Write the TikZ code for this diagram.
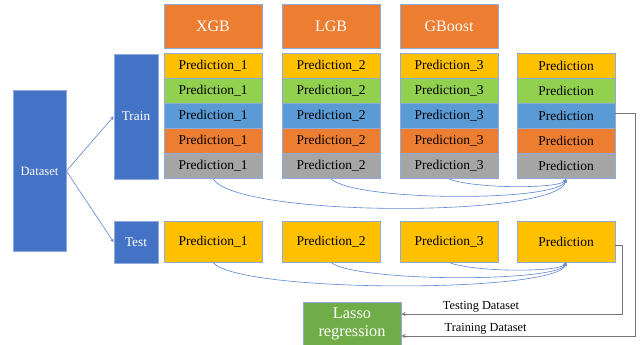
\documentclass[tikz,border=0pt]{standalone}
\usepackage{fontspec}
\setmainfont{Liberation Serif}

\definecolor{boxblue}{HTML}{4472C4}
\definecolor{boxorange}{HTML}{ED7D31}
\definecolor{boxyellow}{HTML}{FFC000}
\definecolor{boxgreen}{HTML}{92D050}
\definecolor{boxsky}{HTML}{5B9BD5}
\definecolor{boxgray}{HTML}{A5A5A5}
\definecolor{lassogreen}{HTML}{70AD47}
\definecolor{edge}{HTML}{8FAADC}
\definecolor{curveblue}{HTML}{5B86D0}
\definecolor{wire}{HTML}{767676}

\begin{document}
\begin{tikzpicture}[x=1pt,y=-1pt,
    blk/.style={draw=edge, line width=0.8pt, inner sep=0pt, align=center},
    pred/.style={blk, minimum width=98pt, minimum height=25pt, font=\fontsize{13.5}{15}\selectfont},
    head/.style={blk, fill=boxorange, text=white, minimum width=98pt, minimum height=44pt, font=\fontsize{16}{18}\selectfont},
    stage/.style={blk, fill=boxblue, text=white, minimum width=44pt, font=\fontsize{13.3}{15}\selectfont},
    link/.style={draw=curveblue, line width=0.6pt, ->, >=stealth},
    wireline/.style={draw=wire, line width=0.9pt, ->, >=stealth},
    tag/.style={font=\fontsize{12.3}{14}\selectfont, inner sep=1.5pt}]
    \useasboundingbox (0,0) rectangle (643,345);

    % Dataset split
    \node[stage, minimum width=53pt, minimum height=161pt, font=\fontsize{12.6}{14}\selectfont] (data) at (39.5,171) {Dataset};
    \node[stage, minimum height=125pt] (train) at (136,116.5) {Train};
    \node[stage, minimum height=42pt] (test) at (136,242) {Test};
    \draw[link] (data.east) -- (train.west);
    \draw[link] (data.east) -- (test.west);

    % Model headers
    \node[head] (xgb) at (213,26) {XGB};
    \node[head] (lgb) at (331,26) {LGB};
    \node[head] (gboost) at (449,26) {GBoost};

    % Train folds and test predictions
    \foreach \c/\x/\lab in {1/213/Prediction\_1, 2/331/Prediction\_2, 3/449/Prediction\_3, 4/566/Prediction} {
        \foreach \r/\col in {1/boxyellow, 2/boxgreen, 3/boxsky, 4/boxorange, 5/boxgray}
            \node[pred, fill=\col] (p\c-\r) at (\x,{41+25*\r}) {\lab};
        \node[pred, fill=boxyellow, minimum height=41pt] (t\c) at (\x,241.5) {\lab};
    }

    % Stacking curves
    \foreach \c/\d/\e in {1/39/31, 2/23/20, 3/10/10} {
        \draw[link] (p\c-5.south) .. controls +(25,\d) and +(-6,\d) .. (p4-5.south);
        \draw[link] (t\c.south) .. controls +(25,\e) and +(-6,\e) .. (t4.south);
    }

    % Meta learner
    \node[blk, fill=lassogreen, text=white, minimum width=98pt, minimum height=44pt, font=\fontsize{16.3}{18}\selectfont] (lasso) at (352,324) {Lasso\\regression};
    \draw[wireline] ([yshift=-4pt]t4.east) -- ++(7,0) |- ([yshift=10pt]lasso.east)
        node[tag, pos=0.82, above] {Testing Dataset};
    \draw[wireline] ([yshift=3pt]p4-3.east) -- ++(20,0) |- ([yshift=-12pt]lasso.east)
        node[tag, pos=0.82, above] {Training Dataset};
\end{tikzpicture}
\end{document}
